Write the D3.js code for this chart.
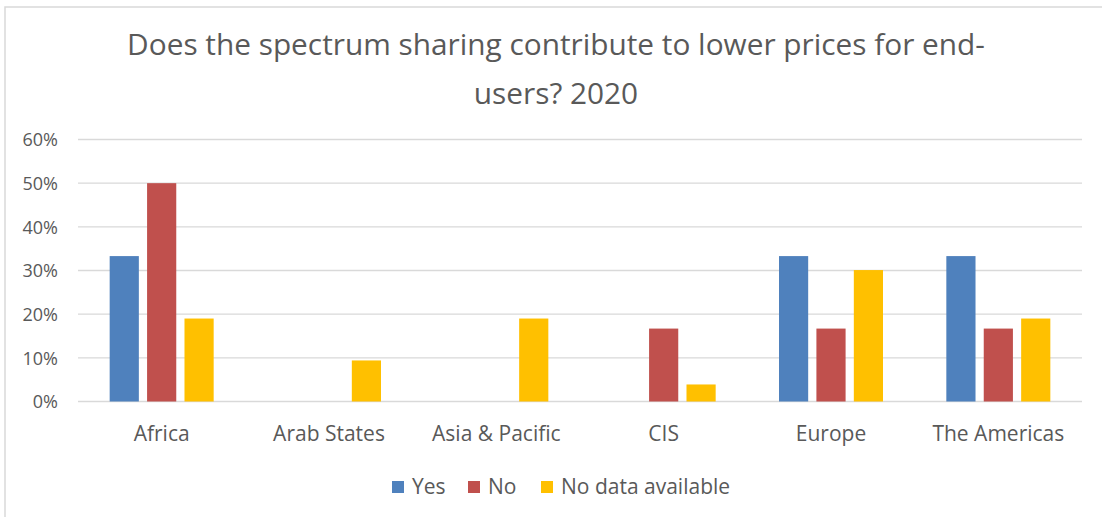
<!DOCTYPE html>
<html>
<head>
<meta charset="utf-8">
<script src="https://cdn.jsdelivr.net/npm/d3@7"></script>
<style>
  body { margin: 0; background: #fff; }
  svg text { font-family: "Open Sans", Lato, sans-serif; }
</style>
</head>
<body>
<div id="draw"></div>
<script>
var titleLines = ['Does the spectrum sharing contribute to lower prices for end-', 'users? 2020'];

var regions = ['Africa', 'Arab States', 'Asia & Pacific', 'CIS', 'Europe', 'The Americas'];
var seriesNames = ['Yes', 'No', 'No data available'];
var colors = ['#4F81BD', '#C0504D', '#FFC000'];

// percent per region
var yes = [33.3, 0, 0, 0, 33.3, 33.3];
var no = [50, 0, 0, 16.7, 16.7, 16.7];
var noData = [19, 9.4, 19, 3.9, 30.1, 19];

var yTicks = [0, 10, 20, 30, 40, 50, 60];

var W = 1102, H = 517;
var margin = {left: 78, right: 20, top: 139.5, bottom: 115.5}; // plot 78..1082, 139.5..401.5
var groupW = 104;

var svg = d3.select('#draw').append('svg')
  .attr('width', W).attr('height', H);

// outer chart frame (only top and left visible in the crop)
svg.append('rect')
  .attr('x', 5).attr('y', 7)
  .attr('width', W + 20).attr('height', H + 20)
  .attr('fill', '#fff')
  .attr('stroke', '#d9d9d9')
  .attr('stroke-width', 1.5);

var x0 = d3.scaleBand()
  .domain(regions)
  .range([margin.left, W - margin.right]);

var x1 = d3.scaleBand()
  .domain(seriesNames)
  .range([0, groupW])
  .paddingInner(0.22);

var y = d3.scaleLinear()
  .domain([0, 60])
  .range([H - margin.bottom, margin.top]);

// gridlines
svg.append('g')
  .selectAll('line')
  .data(yTicks)
  .enter().append('line')
  .attr('x1', margin.left)
  .attr('x2', W - margin.right)
  .attr('y1', function(d) { return y(d); })
  .attr('y2', function(d) { return y(d); })
  .attr('stroke', '#d9d9d9')
  .attr('stroke-width', 1.3);

// y labels
var yAxis = d3.axisLeft(y)
  .tickValues(yTicks)
  .tickSize(0)
  .tickPadding(0)
  .tickFormat(function(d) { return d + '%'; });

var gy = svg.append('g')
  .attr('transform', 'translate(' + 58 + ',0)')
  .call(yAxis);
gy.select('.domain').remove();
gy.selectAll('text')
  .attr('font-size', 18)
  .attr('font-family', '"Open Sans", sans-serif')
  .attr('fill', '#595959')
  .attr('dy', '0.35em');

// bars
var series = [yes, no, noData];
var groups = svg.append('g')
  .selectAll('g')
  .data(regions)
  .enter().append('g')
  .attr('transform', function(d) {
    return 'translate(' + (x0(d) + (x0.bandwidth() - groupW) / 2) + ',0)';
  });

groups.selectAll('rect')
  .data(function(d, i) {
    return seriesNames.map(function(s, k) { return {s: s, k: k, v: series[k][i]}; });
  })
  .enter().append('rect')
  .attr('x', function(d) { return x1(d.s); })
  .attr('width', x1.bandwidth())
  .attr('y', function(d) { return y(d.v); })
  .attr('height', function(d) { return y(0) - y(d.v); })
  .attr('fill', function(d) { return colors[d.k]; });

// category labels
var xAxis = d3.axisBottom(x0).tickSize(0).tickPadding(0);
var gx = svg.append('g')
  .attr('transform', 'translate(0,' + 441 + ')')
  .call(xAxis);
gx.select('.domain').remove();
gx.selectAll('text')
  .attr('font-size', 21)
  .attr('font-family', '"Open Sans", sans-serif')
  .attr('fill', '#595959')
  .attr('dy', 0);

// title
var title = svg.append('g')
  .selectAll('text')
  .data(titleLines)
  .enter().append('text')
  .attr('x', 556)
  .attr('y', function(d, i) { return 55 + i * 49; })
  .attr('text-anchor', 'middle')
  .attr('font-size', 28)
  .attr('fill', '#595959')
  .text(function(d) { return d; });
// stretch to the width of the first line in the scan
var w0 = title.node().getComputedTextLength();
title.attr('font-size', 28 * 858 / w0);

// legend
var legendX = [392, 468, 541];
var lg = svg.append('g')
  .selectAll('g')
  .data(seriesNames)
  .enter().append('g')
  .attr('transform', function(d, i) { return 'translate(' + legendX[i] + ',' + 481 + ')'; });
lg.append('rect')
  .attr('width', 12).attr('height', 12)
  .attr('fill', function(d, i) { return colors[i]; });
lg.append('text')
  .attr('x', 20).attr('y', 13)
  .attr('font-size', 21)
  .attr('fill', '#595959')
  .text(function(d) { return d; });
</script>
</body>
</html>
